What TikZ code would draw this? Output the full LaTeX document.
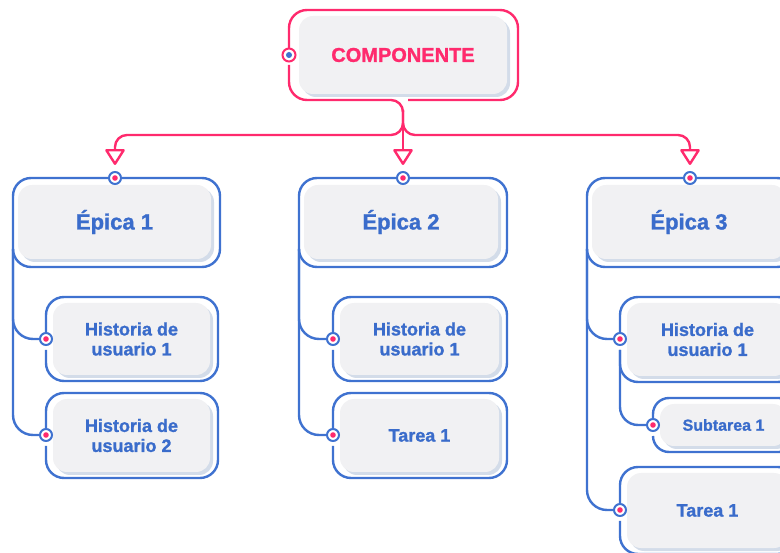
\documentclass[tikz,border=0pt]{standalone}
\usepackage{fontspec}
\setmainfont{Liberation Sans}
\newfontfamily\heavyfont[FakeBold=1.2]{Liberation Sans Bold}
\usetikzlibrary{arrows.meta,shadows}
\definecolor{pinkc}{HTML}{FF2A6D}
\definecolor{bluec}{HTML}{3F72D0}
\definecolor{btext}{HTML}{3A6CCB}
\definecolor{greyc}{HTML}{F1F1F3}
\definecolor{shadowc}{HTML}{D3DCE9}
\tikzset{
  pinkline/.style={draw=pinkc, line width=2.4pt},
  blueline/.style={draw=bluec, line width=2.4pt},
  card/.style={rectangle, rounded corners=14pt, fill=greyc, draw=none, inner sep=0pt,
    general shadow={fill=shadowc, shadow xshift=3pt, shadow yshift=-3pt}},
  bport/.style={circle, draw=bluec, fill=white, line width=2pt, minimum size=12pt, inner sep=0pt,
    path picture={\fill[pinkc] (path picture bounding box.center) circle (2.8pt);}},
  pport/.style={circle, draw=pinkc, fill=white, line width=2pt, minimum size=13pt, inner sep=0pt,
    path picture={\fill[bluec] (path picture bounding box.center) circle (3pt);}},
  comptext/.style={font=\heavyfont\fontsize{20}{24}\selectfont, text=pinkc},
  epictext/.style={font=\heavyfont\fontsize{22}{26}\selectfont, text=btext},
  subtext/.style={font=\heavyfont\fontsize{18}{20}\selectfont, text=btext, align=center},
  smalltext/.style={font=\heavyfont\fontsize{16}{19}\selectfont, text=btext},
  arr/.style={-{Triangle[open, length=17pt, width=21pt, round]}, shorten >=6pt}
}
\newcommand\mkcard[7]{%
  \pgfmathsetmacro\mkcx{(#2+#4)/2}%
  \pgfmathsetmacro\mkcy{(#3+#5)/2}%
  \pgfmathsetmacro\mkcw{#4-#2}%
  \pgfmathsetmacro\mkch{#5-#3}%
  \node[card, minimum width=\mkcw pt, minimum height=\mkch pt, #6] (#1) at (\mkcx,\mkcy) {#7};}
\begin{document}
\begin{tikzpicture}[x=1pt,y=-1pt]
\useasboundingbox (0,0) rectangle (780,553);
\clip (0,0) rectangle (780,553);

% ---------- COMPONENTE ----------
\mkcard{comp}{299}{16}{507}{94}{comptext}{COMPONENTE}
\draw[pinkline, rounded corners=18pt] (289,65) -- (289,100) [rounded corners=12pt] -- (403,100) -- (403,112);
\draw[pinkline, rounded corners=18pt] (408,100) -- (518,100) -- (518,10) -- (289,10) -- (289,48);
\node[pport] (compp) at (289,55) {};
\coordinate (stem) at (403,110);
\coordinate (split) at (403,135);

% ---------- Epica cards ----------
\mkcard{e1}{18}{185}{211}{259}{epictext}{Épica 1}
\mkcard{e2}{304}{185}{498}{259}{epictext}{Épica 2}
\mkcard{e3}{592}{185}{786}{259}{epictext}{Épica 3}
\draw[blueline, rounded corners=18pt] (122,178) -- (220,178) -- (220,267) -- (13,267) -- (13,178) -- (108,178);
\draw[blueline, rounded corners=18pt] (410,178) -- (507,178) -- (507,267) -- (299,267) -- (299,178) -- (396,178);
\draw[blueline, rounded corners=18pt] (697,178) -- (795,178) -- (795,267) -- (587,267) -- (587,178) -- (683,178);
\node[bport] (e1p) at (115,178) {};
\node[bport] (e2p) at (403,178) {};
\node[bport] (e3p) at (690,178) {};
\coordinate (e1tree) at (13,249);
\coordinate (e2tree) at (299,249);
\coordinate (e3tree) at (587,249);

% pink connectors
\draw[pinkline, rounded corners=12pt, arr] (stem) -- (split) -| (e1p);
\draw[pinkline, rounded corners=12pt, arr] (stem) -- (split) -| (e3p);
\draw[pinkline, arr] (stem) -- (e2p);

% ---------- Children of Epica 1 ----------
\mkcard{h11}{53}{303}{210}{375}{subtext}{Historia de\\usuario 1}
\mkcard{h12}{53}{399}{210}{472}{subtext}{Historia de\\usuario 2}
\draw[blueline, rounded corners=18pt] (46,350) -- (46,381) -- (218,381) -- (218,297) -- (46,297) -- (46,332);
\draw[blueline, rounded corners=18pt] (46,446) -- (46,478) -- (218,478) -- (218,393) -- (46,393) -- (46,428);
\node[bport] (h11p) at (46,339) {};
\node[bport] (h12p) at (46,435) {};
\draw[blueline, rounded corners=20pt] (e1tree) |- (h11p);
\draw[blueline, rounded corners=20pt] (e1tree) |- (h12p);

% ---------- Children of Epica 2 ----------
\mkcard{h21}{340}{303}{499}{375}{subtext}{Historia de\\usuario 1}
\mkcard{t21}{340}{399}{499}{472}{subtext}{Tarea 1}
\draw[blueline, rounded corners=18pt] (333,350) -- (333,381) -- (507,381) -- (507,297) -- (333,297) -- (333,332);
\draw[blueline, rounded corners=18pt] (333,446) -- (333,478) -- (507,478) -- (507,393) -- (333,393) -- (333,428);
\node[bport] (h21p) at (333,339) {};
\node[bport] (t21p) at (333,435) {};
\draw[blueline, rounded corners=20pt] (e2tree) |- (h21p);
\draw[blueline, rounded corners=20pt] (e2tree) |- (t21p);

% ---------- Children of Epica 3 ----------
\mkcard{h31}{627}{303}{788}{376}{subtext}{Historia de\\usuario 1}
\mkcard{s31}{660}{404}{787}{446}{smalltext}{Subtarea 1}
\mkcard{t31}{627}{473}{788}{548}{subtext}{Tarea 1}
\draw[blueline, rounded corners=18pt] (620,350) -- (620,382) -- (796,382) -- (796,297) -- (620,297) -- (620,332);
\draw[blueline, rounded corners=16pt] (653,436) -- (653,452) -- (795,452) -- (795,398) -- (653,398) -- (653,418);
\draw[blueline, rounded corners=18pt] (620,521) -- (620,554) -- (796,554) -- (796,467) -- (620,467) -- (620,503);
\node[bport] (h31p) at (620,339) {};
\node[bport] (s31p) at (653,425) {};
\node[bport] (t31p) at (620,510) {};
\coordinate (h31tree) at (620,350);
\draw[blueline, rounded corners=20pt] (e3tree) |- (h31p);
\draw[blueline, rounded corners=20pt] (e3tree) |- (t31p);
\draw[blueline, rounded corners=18pt] (h31tree) |- (s31p);
\end{tikzpicture}
\end{document}
